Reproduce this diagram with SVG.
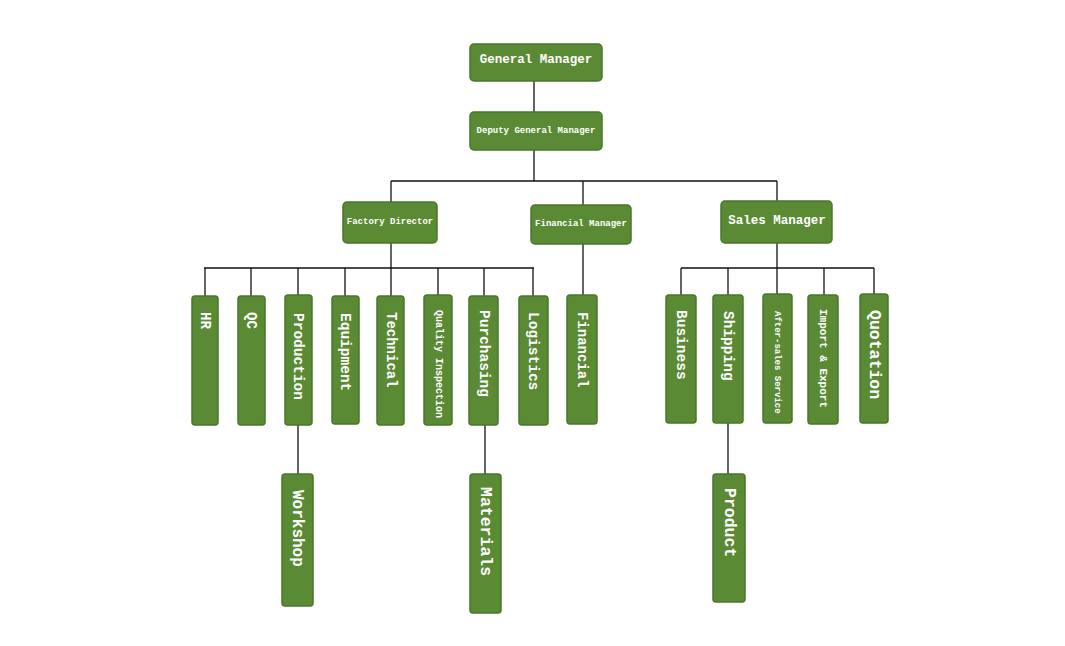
<svg xmlns="http://www.w3.org/2000/svg" width="1065" height="646" viewBox="0 0 1065 646">
<style>
.box{fill:#5b8a35;stroke:#4a772b;stroke-width:1.5}
.t{font-family:"Liberation Mono","DejaVu Sans Mono",monospace;font-weight:bold;fill:#ffffff}
.h{text-anchor:middle;dominant-baseline:central}
.v{dominant-baseline:central}
#connectors line{stroke:#111;stroke-width:1.3}
</style>
<rect width="1065" height="646" fill="#ffffff"/>
<g id="connectors">
<line x1="534" y1="81" x2="534" y2="112"/>
<line x1="534" y1="150" x2="534" y2="181"/>
<line x1="391" y1="181" x2="777" y2="181"/>
<line x1="391" y1="181" x2="391" y2="202"/>
<line x1="583" y1="181" x2="583" y2="205"/>
<line x1="777" y1="181" x2="777" y2="201"/>
<line x1="391" y1="243" x2="391" y2="268"/>
<line x1="204" y1="268" x2="534" y2="268"/>
<line x1="205" y1="268" x2="205" y2="296"/>
<line x1="251" y1="268" x2="251" y2="296"/>
<line x1="298" y1="268" x2="298" y2="295"/>
<line x1="345" y1="268" x2="345" y2="296"/>
<line x1="391" y1="268" x2="391" y2="296"/>
<line x1="438" y1="268" x2="438" y2="295"/>
<line x1="484" y1="268" x2="484" y2="296"/>
<line x1="533" y1="268" x2="533" y2="296"/>
<line x1="583" y1="244" x2="583" y2="295"/>
<line x1="777" y1="243" x2="777" y2="268"/>
<line x1="681" y1="268" x2="874" y2="268"/>
<line x1="681" y1="268" x2="681" y2="295"/>
<line x1="728" y1="268" x2="728" y2="295"/>
<line x1="777" y1="268" x2="777" y2="294"/>
<line x1="824" y1="268" x2="824" y2="295"/>
<line x1="874" y1="268" x2="874" y2="294"/>
<line x1="298" y1="425" x2="298" y2="475"/>
<line x1="485" y1="425" x2="485" y2="475"/>
<line x1="728" y1="423" x2="728" y2="475"/>
</g>
<g id="general-manager"><rect class="box" x="470" y="44" width="132" height="37" rx="4"/><text class="t h" x="536" y="60" font-size="12.5">General Manager</text></g>
<g id="deputy-general-manager"><rect class="box" x="470" y="112" width="132" height="38" rx="4"/><text class="t h" x="536" y="131" font-size="9">Deputy General Manager</text></g>
<g id="factory-director"><rect class="box" x="343" y="202" width="94" height="41" rx="4"/><text class="t h" x="390" y="222" font-size="9">Factory Director</text></g>
<g id="financial-manager"><rect class="box" x="531" y="205" width="100" height="39" rx="4"/><text class="t h" x="581" y="224" font-size="9">Financial Manager</text></g>
<g id="sales-manager"><rect class="box" x="721" y="201" width="111" height="42" rx="4"/><text class="t h" x="777" y="221" font-size="12.5">Sales Manager</text></g>
<g id="hr"><rect class="box" x="192" y="296" width="26" height="129" rx="3"/><text class="t v" transform="translate(205,312) rotate(90)" font-size="14">HR</text></g>
<g id="qc"><rect class="box" x="238" y="296" width="27" height="129" rx="3"/><text class="t v" transform="translate(251,312) rotate(90)" font-size="14">QC</text></g>
<g id="production"><rect class="box" x="285" y="295" width="27" height="130" rx="3"/><text class="t v" transform="translate(298,313) rotate(90)" font-size="14.5">Production</text></g>
<g id="equipment"><rect class="box" x="332" y="296" width="27" height="128" rx="3"/><text class="t v" transform="translate(345,313) rotate(90)" font-size="14.5">Equipment</text></g>
<g id="technical"><rect class="box" x="377" y="296" width="27" height="129" rx="3"/><text class="t v" transform="translate(391,312) rotate(90)" font-size="14">Technical</text></g>
<g id="quality-inspection"><rect class="box" x="424" y="295" width="28" height="130" rx="3"/><text class="t v" transform="translate(438,310) rotate(90)" font-size="10">Quality Inspection</text></g>
<g id="purchasing"><rect class="box" x="469" y="296" width="29" height="129" rx="3"/><text class="t v" transform="translate(484,310) rotate(90)" font-size="14.5">Purchasing</text></g>
<g id="logistics"><rect class="box" x="519" y="296" width="29" height="129" rx="3"/><text class="t v" transform="translate(533,312) rotate(90)" font-size="14.5">Logistics</text></g>
<g id="financial"><rect class="box" x="567" y="295" width="30" height="129" rx="3"/><text class="t v" transform="translate(582,312) rotate(90)" font-size="14">Financial</text></g>
<g id="business"><rect class="box" x="666" y="295" width="30" height="128" rx="3"/><text class="t v" transform="translate(681,310) rotate(90)" font-size="14.5">Business</text></g>
<g id="shipping"><rect class="box" x="713" y="295" width="30" height="128" rx="3"/><text class="t v" transform="translate(728,311) rotate(90)" font-size="14.5">Shipping</text></g>
<g id="after-sales-service"><rect class="box" x="763" y="294" width="29" height="129" rx="3"/><text class="t v" transform="translate(777,311) rotate(90)" font-size="9">After-sales Service</text></g>
<g id="import-export"><rect class="box" x="808" y="295" width="30" height="129" rx="3"/><text class="t v" transform="translate(823,309) rotate(90)" font-size="11">Import &amp; Export</text></g>
<g id="quotation"><rect class="box" x="860" y="294" width="28" height="129" rx="3"/><text class="t v" transform="translate(874,310) rotate(90)" font-size="16.5">Quotation</text></g>
<g id="workshop"><rect class="box" x="282" y="474" width="31" height="132" rx="3"/><text class="t v" transform="translate(297,490) rotate(90)" font-size="16">Workshop</text></g>
<g id="materials"><rect class="box" x="470" y="474" width="31" height="139" rx="3"/><text class="t v" transform="translate(485,487) rotate(90)" font-size="16.5">Materials</text></g>
<g id="product"><rect class="box" x="713" y="474" width="32" height="128" rx="3"/><text class="t v" transform="translate(729,488) rotate(90)" font-size="16.5">Product</text></g>
</svg>
